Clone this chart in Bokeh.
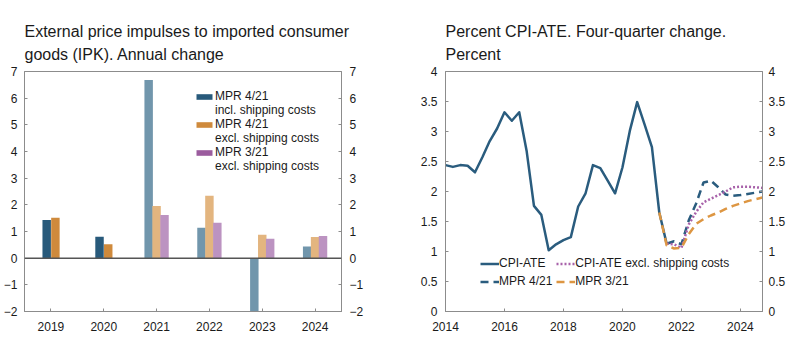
from bokeh.plotting import figure
from bokeh.models import (ColumnDataSource, FactorRange, Range1d, LinearAxis,
                          FixedTicker, Span, Legend, LegendItem)
from bokeh.transform import dodge
from bokeh.layouts import row
from bokeh.embed import file_html
from bokeh.resources import INLINE
import numpy as np

# ---------------- data: left chart (IPK, annual change) ----------------
years = ["2019", "2020", "2021", "2022", "2023", "2024"]
hist_years = ["2019", "2020"]
proj_years = ["2021", "2022", "2023", "2024"]
ipk_incl_mpr421 = [1.43, 0.80, 6.68, 1.14, -2.00, 0.44]
ipk_excl_mpr421 = [1.52, 0.52, 1.96, 2.34, 0.88, 0.79]
ipk_excl_mpr321 = [None, None, 1.62, 1.33, 0.73, 0.83]
left_ticks = [-2, -1, 0, 1, 2, 3, 4, 5, 6, 7]

# ---------------- data: right chart (CPI-ATE, four-quarter change) -----
start_year = 2014          # first quarter: 2014Q1
cpi_ate = [2.44, 2.41, 2.44, 2.43, 2.32, 2.57, 2.84, 3.05, 3.32, 3.18, 3.32,
           2.68, 1.76, 1.61, 1.02, 1.12, 1.19, 1.24, 1.75, 1.97, 2.44, 2.39,
           2.18, 1.97, 2.40, 3.01, 3.49, 3.12, 2.74, 1.65, 1.13]          # 2014Q1-2021Q3
mpr421 = [1.13, 1.17, 1.12, 1.52, 1.80, 2.15, 2.18, 2.07, 1.95, 1.93, 1.94,
          1.96, 1.98, 2.00]                                            # 2021Q3-2024Q4
cpi_ate_excl = [1.13, 1.12, 1.06, 1.45, 1.66, 1.82, 1.88, 1.94, 2.00, 2.07,
                2.08, 2.08, 2.07, 2.06]                                # 2021Q3-2024Q4
mpr321 = [1.65, 1.10, 1.05, 1.06, 1.29, 1.46, 1.54, 1.60, 1.65, 1.71, 1.76,
          1.80, 1.84, 1.87, 1.90]                                      # 2021Q2-2024Q4
mpr421_start_q = 30
excl_start_q = 30
mpr321_start_q = 29
right_x_ticks = [2014, 2016, 2018, 2020, 2022, 2024]
right_y_ticks = [0, 0.5, 1, 1.5, 2, 2.5, 3, 3.5, 4]

# ---------------- styles ----------------
FONT = "Liberation Sans"
AXIS_COL = "#8c8c8c"
TXT_COL = "#1a1a1a"
BLUE_H, ORANGE_H, PURPLE_H = "#285a7b", "#cf8a3c", "#9b5c9e"
BLUE_P, ORANGE_P, PURPLE_P = "#7196ac", "#e3b57f", "#bc93c1"
L_BLUE, L_PURPLE, L_ORANGE = "#2a5c7e", "#a862aa", "#dd9642"


def style_axis(ax, standoff):
    ax.axis_line_color = AXIS_COL
    ax.axis_line_width = 1
    ax.major_tick_line_color = AXIS_COL
    ax.major_tick_in = 3
    ax.major_tick_out = 0
    ax.minor_tick_line_color = None
    ax.major_label_text_font = FONT
    ax.major_label_text_font_size = "12px"
    ax.major_label_text_color = TXT_COL
    ax.major_label_standoff = standoff


def style_title(p, text):
    p.title.text = text
    p.title.text_font = FONT
    p.title.text_font_size = "16px"
    p.title.text_font_style = "normal"
    p.title.text_color = TXT_COL
    p.title.text_line_height = 1.35
    p.title.align = "left"
    p.title.offset = 0
    p.title.standoff = 17


def minus(v):
    return ("\u2212" + str(abs(v))) if v < 0 else str(v)


# ================= LEFT CHART =================
p1 = figure(width=400, height=344, x_range=FactorRange(factors=years),
            y_range=Range1d(-2, 7), output_backend="svg", toolbar_location=None,
            min_border_left=23, min_border_right=59, min_border_top=71,
            min_border_bottom=33)
style_title(p1, "External price impulses to imported consumer\ngoods (IPK). Annual change")
p1.xgrid.visible = False
p1.ygrid.visible = False
p1.outline_line_color = AXIS_COL

p1.yaxis.ticker = FixedTicker(ticks=left_ticks)
p1.yaxis.major_label_overrides = {t: minus(t) for t in left_ticks}
style_axis(p1.yaxis[0], 7)
ry = LinearAxis(ticker=FixedTicker(ticks=left_ticks))
ry.major_label_overrides = {t: minus(t) for t in left_ticks}
style_axis(ry, 8)
p1.add_layout(ry, "right")
style_axis(p1.xaxis[0], 10)

n_hist = len(hist_years)
src_h = ColumnDataSource(dict(year=hist_years,
                              incl=ipk_incl_mpr421[:n_hist],
                              excl=ipk_excl_mpr421[:n_hist],
                              excl3=[np.nan if v is None else v for v in ipk_excl_mpr321[:n_hist]]))
src_p = ColumnDataSource(dict(year=proj_years,
                              incl=ipk_incl_mpr421[n_hist:],
                              excl=ipk_excl_mpr421[n_hist:],
                              excl3=ipk_excl_mpr321[n_hist:]))
BW = 0.16
r_bh = p1.vbar(x=dodge("year", -0.08, range=p1.x_range), top="incl", bottom=0, width=BW,
               source=src_h, fill_color=BLUE_H, line_color=None)
r_oh = p1.vbar(x=dodge("year", 0.085, range=p1.x_range), top="excl", bottom=0, width=BW,
               source=src_h, fill_color=ORANGE_H, line_color=None)
# MPR 3/21 has no bars in the historical years (NaN) - used for the legend swatch
r_ph = p1.vbar(x=dodge("year", 0.15, range=p1.x_range), top="excl3", bottom=0, width=BW,
               source=src_h, fill_color=PURPLE_H, line_color=None)
r_blank = p1.vbar(x=dodge("year", 0.15, range=p1.x_range), top="excl3", bottom=0, width=BW,
                  source=src_h, fill_alpha=0, line_alpha=0)
p1.vbar(x=dodge("year", -0.15, range=p1.x_range), top="incl", bottom=0, width=BW,
        source=src_p, fill_color=BLUE_P, line_color=None)
p1.vbar(x=dodge("year", 0.0, range=p1.x_range), top="excl", bottom=0, width=BW,
        source=src_p, fill_color=ORANGE_P, line_color=None)
p1.vbar(x=dodge("year", 0.15, range=p1.x_range), top="excl3", bottom=0, width=BW,
        source=src_p, fill_color=PURPLE_P, line_color=None)

p1.add_layout(Span(location=0, dimension="width", line_color="#555555", line_width=1.5))

leg1 = Legend(items=[
    LegendItem(label="MPR 4/21", renderers=[r_bh]),
    LegendItem(label="incl. shipping costs", renderers=[r_blank]),
    LegendItem(label="MPR 4/21", renderers=[r_oh]),
    LegendItem(label="excl. shipping costs", renderers=[r_blank]),
    LegendItem(label="MPR 3/21", renderers=[r_ph]),
    LegendItem(label="excl. shipping costs", renderers=[r_blank]),
], location=(170, 138), orientation="vertical")
leg1.background_fill_alpha = 0
leg1.border_line_color = None
leg1.padding = 0
leg1.margin = 0
leg1.spacing = 0
leg1.label_height = 14
leg1.glyph_height = 7
leg1.glyph_width = 20
leg1.label_standoff = 1
leg1.label_text_font = FONT
leg1.label_text_font_size = "12px"
leg1.label_text_color = TXT_COL
p1.add_layout(leg1, "center")

# ================= RIGHT CHART =================
p2 = figure(width=397, height=344, x_range=Range1d(2014, 2024.75),
            y_range=Range1d(0, 4), output_backend="svg", toolbar_location=None,
            min_border_left=45, min_border_right=35, min_border_top=71,
            min_border_bottom=33)
style_title(p2, "Percent CPI-ATE. Four-quarter change.\nPercent")
p2.xgrid.visible = False
p2.ygrid.visible = False
p2.outline_line_color = AXIS_COL
p2.xaxis.ticker = FixedTicker(ticks=right_x_ticks)
style_axis(p2.xaxis[0], 10)
yo = {t: (str(int(t)) if float(t).is_integer() else str(t)) for t in right_y_ticks}
p2.yaxis.ticker = FixedTicker(ticks=right_y_ticks)
p2.yaxis.major_label_overrides = yo
style_axis(p2.yaxis[0], 8)
ry2 = LinearAxis(ticker=FixedTicker(ticks=right_y_ticks))
ry2.major_label_overrides = yo
style_axis(ry2, 6)
p2.add_layout(ry2, "right")


def qx(start_q, n):
    return start_year + (start_q + np.arange(n)) / 4.0


r_cpi = p2.line(qx(0, len(cpi_ate)), cpi_ate, line_color=L_BLUE, line_width=2.5,
                line_join="round")
r_421 = p2.line(qx(mpr421_start_q, len(mpr421)), mpr421, line_color=L_BLUE,
                line_width=2.5, line_dash="8 5")
r_exc = p2.line(qx(excl_start_q, len(cpi_ate_excl)), cpi_ate_excl, line_color=L_PURPLE,
                line_width=2.5, line_dash="2 2")
r_321 = p2.line(qx(mpr321_start_q, len(mpr321)), mpr321, line_color=L_ORANGE,
                line_width=2.5, line_dash="8 5")

leg2 = Legend(items=[
    LegendItem(label="CPI-ATE", renderers=[r_cpi]),
    LegendItem(label="CPI-ATE excl. shipping costs", renderers=[r_exc]),
    LegendItem(label="MPR 4/21", renderers=[r_421]),
    LegendItem(label="MPR 3/21", renderers=[r_321]),
], location=(35, 23), orientation="horizontal", nrows=2)
leg2.background_fill_alpha = 0
leg2.border_line_color = None
leg2.padding = 0
leg2.margin = 0
leg2.spacing = 4
leg2.label_height = 13
leg2.glyph_height = 13
leg2.glyph_width = 19
leg2.label_standoff = 0
leg2.label_text_font = FONT
leg2.label_text_font_size = "12px"
leg2.label_text_color = TXT_COL
p2.add_layout(leg2, "center")

layout = row(p1, p2)
open("out.html", "w").write(file_html(layout, INLINE))
